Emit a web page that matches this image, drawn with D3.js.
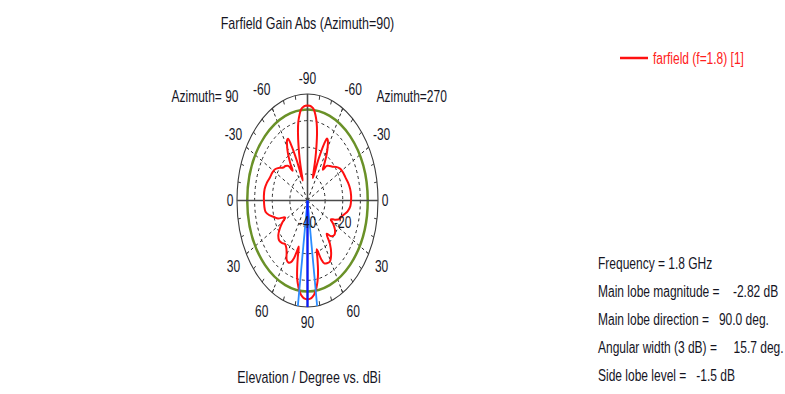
<!DOCTYPE html>
<html>
<head>
<meta charset="utf-8">
<script src="https://cdn.jsdelivr.net/npm/d3@7"></script>
<style>
  body { margin: 0; background: #ffffff; }
  svg { display: block; }
  text { font-family: "Liberation Sans", Arial, sans-serif; fill: #15151f; }
</style>
</head>
<body>
<svg id="chart" width="785" height="394"></svg>
<script>
// Farfield gain cut, azimuth = 90 half (drawn on the left), elevation in degrees
const elevLeft = [-90,-88,-86,-84,-82,-80,-78,-76,-74,-72,-70,-68,-66,-64.5,-63,-61,-58,-55,-53,-50,-46,-42,-38,-33,-28,-22,-16,-10,-4,0,5,10,14,18,22,25,27,30,34,38,43,48,52,56,59,62,65,68,70.5,72.5,74,75.5,77,78.5,80,82.15,84,86,88,90];
const gainLeft = [-4.32,-4.4,-4.8,-5.5,-7.5,-10,-14,-19,-24,-29,-32,-24,-17,-14.3,-14.5,-16,-19,-23,-26,-23,-22,-21.5,-20,-18.3,-17.5,-17,-16,-15.3,-15.2,-15.3,-15.4,-15.8,-17.5,-20,-22,-25,-25.8,-23.5,-21,-19,-18,-18.5,-19.3,-18.5,-17,-14.8,-14.3,-15,-17,-20,-22,-18,-14,-10.5,-8.3,-5.82,-4.4,-3.5,-3.0,-2.82];

// Azimuth = 270 half (drawn on the right)
const elevRight = [-90,-88,-86,-84,-82,-80,-78,-76,-74,-72,-70,-68,-66,-64.5,-63,-61,-58,-55,-53,-50,-46,-42,-38,-33,-28,-22,-16,-10,-4,0,5,10,14,18,21,25,28,31,35,40,45,49,52,56,61,65,68,70.5,72.5,74,75.5,77,78.5,80,82.15,84,86,88,90];
const gainRight = [-4.32,-4.4,-4.8,-5.6,-7.6,-10.2,-14,-19,-24,-29,-31,-23,-16.5,-14.2,-14.6,-16.2,-19.5,-23.5,-25.5,-23,-22,-21,-19.5,-18,-17.3,-16.8,-16,-15.4,-15.2,-15.3,-15.6,-16.8,-18.5,-20,-20.5,-23,-25,-23,-21,-20,-21,-23.4,-19.3,-16,-13.8,-14,-14.5,-16.5,-19.5,-21,-17.5,-13.5,-10.5,-8.3,-5.82,-4.4,-3.5,-3.0,-2.82];

// Radial (dB) and angular axis definitions
const dbRange = [-40, 0];
const ringLevels = [-30, -20, -10];
const radialLabels = [-40, -20];
const angleLabels = [-90, -60, -30, 0, 30, 60, 90];
const spokeAngles = [-60, -30, 30, 60];

// Summary figures
const frequencyGHz = 1.8;
const mainLobeMagnitude = -2.82;
const mainLobeDirection = 90.0;
const angularWidth3dB = 15.7;
const sideLobeLevel = -1.5;

const svg = d3.select("#chart");
const cx = 307.5, cy = 200.5, rx = 70.5, ry = 106.5;
const textScaleX = 0.75;
const fontSize = 16;

const r = d3.scaleLinear().domain(dbRange).range([0, 1]).clamp(true);
const rad = d => d * Math.PI / 180;
// side: -1 = azimuth 90 half (left), +1 = azimuth 270 half (right)
const pt = (side, elev, db) => {
  const k = r(db);
  return [cx + side * rx * k * Math.cos(rad(elev)), cy + ry * k * Math.sin(rad(elev))];
};

function label(x, y, str, anchor, color, size, sx) {
  const g = svg.append("g").attr("transform", `translate(${x},${y}) scale(${sx || textScaleX},1)`);
  const t = g.append("text")
    .attr("text-anchor", anchor || "start")
    .attr("font-size", size || fontSize)
    .style("white-space", "pre")
    .text(str);
  if (color) t.style("fill", color);
  return t;
}

const plot = svg.append("g");

// dashed level rings
plot.selectAll("ellipse.ring").data(ringLevels).join("ellipse")
  .attr("cx", cx).attr("cy", cy)
  .attr("rx", d => rx * r(d)).attr("ry", d => ry * r(d))
  .attr("fill", "none").attr("stroke", "#2a2a2a")
  .attr("stroke-width", 1).attr("stroke-dasharray", "3,3");

// dashed spokes on both halves
[-1, 1].forEach(side => {
  plot.selectAll(null).data(spokeAngles).join("line")
    .attr("x1", cx).attr("y1", cy)
    .attr("x2", d => pt(side, d, dbRange[1])[0])
    .attr("y2", d => pt(side, d, dbRange[1])[1])
    .attr("stroke", "#2a2a2a").attr("stroke-width", 1).attr("stroke-dasharray", "3,3");
});

// -3 dB circle relative to the main lobe
plot.append("ellipse")
  .attr("cx", cx).attr("cy", cy)
  .attr("rx", rx * r(mainLobeMagnitude - 3)).attr("ry", ry * r(mainLobeMagnitude - 3))
  .attr("fill", "none").attr("stroke", "#6a9128").attr("stroke-width", 2.5);

// outer boundary
plot.append("ellipse")
  .attr("cx", cx).attr("cy", cy).attr("rx", rx).attr("ry", ry)
  .attr("fill", "none").attr("stroke", "#3a3a3a").attr("stroke-width", 1.1);

// small ticks along the boundary
const tickAngles = d3.range(-90, 91, 10);
[-1, 1].forEach(side => {
  plot.selectAll(null).data(tickAngles).join("line")
    .attr("x1", d => pt(side, d, 0)[0]).attr("y1", d => pt(side, d, 0)[1])
    .attr("x2", d => cx + (pt(side, d, 0)[0] - cx) * 0.96)
    .attr("y2", d => cy + (pt(side, d, 0)[1] - cy) * 0.96)
    .attr("stroke", "#3a3a3a").attr("stroke-width", 1);
});

// solid axes
plot.append("line").attr("x1", cx - rx).attr("x2", cx + rx).attr("y1", cy).attr("y2", cy)
  .attr("stroke", "#4a4a4a").attr("stroke-width", 1.6);
plot.append("line").attr("x1", cx).attr("x2", cx).attr("y1", cy - ry).attr("y2", cy + ry)
  .attr("stroke", "#4a4a4a").attr("stroke-width", 1.6);

// gain curve
const pts = elevLeft.map((e, i) => pt(-1, e, gainLeft[i]))
  .concat(elevRight.map((e, i) => pt(1, e, gainRight[i])).reverse());
plot.append("path")
  .attr("d", d3.line().curve(d3.curveCatmullRomClosed.alpha(0.5))(pts))
  .attr("fill", "none").attr("stroke", "#ff1010").attr("stroke-width", 2);

// main lobe direction and 3 dB beam edges
const half = angularWidth3dB / 2;
[[-1, mainLobeDirection - half], [1, mainLobeDirection - half]].forEach(([side, e]) => {
  const p = pt(side, e, 0);
  plot.append("line").attr("x1", cx).attr("y1", cy).attr("x2", p[0]).attr("y2", p[1])
    .attr("stroke", "#2b8cff").attr("stroke-width", 1.8);
});
const pm = pt(-1, mainLobeDirection, 0);
plot.append("line").attr("x1", cx).attr("y1", cy).attr("x2", pm[0]).attr("y2", pm[1])
  .attr("stroke", "#0a1aff").attr("stroke-width", 2.2);

// angle labels
angleLabels.forEach(a => {
  const sides = (a === 90 || a === -90) ? [0] : [-1, 1];
  sides.forEach(side => {
    const c = Math.cos(rad(a)), s = Math.sin(rad(a));
    const diag = (a % 90 !== 0) ? 1 : 0;
    const x = cx + side * ((rx + 7) * Math.abs(c) + 7 * diag);
    const y = cy + Math.sign(s) * ((ry + 15.5) * Math.abs(s) + 5 * diag);
    label(x, y + 5.5, String(a), "middle");
  });
});

// radial labels
radialLabels.forEach(v => {
  label(cx + rx * r(v), cy + 27, String(v), "middle");
});

// half-plane captions
label(cx - 69, cy - 99, "Azimuth= 90", "end");
label(cx + 69, cy - 99, "Azimuth=270", "start");

// titles
label(cx, 29, "Farfield Gain Abs (Azimuth=90)", "middle", null, 16, 0.78);
label(cx + 1.5, 383, "Elevation / Degree vs. dBi", "middle", null, 16, 0.78);

// legend
svg.append("line").attr("x1", 620).attr("x2", 648).attr("y1", 58).attr("y2", 58)
  .attr("stroke", "#ff1010").attr("stroke-width", 2.5);
label(653, 63.5, `farfield (f=${frequencyGHz}) [1]`, "start", "#ff2020");

// summary block
const info = [
  `Frequency = ${frequencyGHz} GHz`,
  `Main lobe magnitude =    ${mainLobeMagnitude.toFixed(2)} dB`,
  `Main lobe direction =   ${mainLobeDirection.toFixed(1)} deg.`,
  `Angular width (3 dB) =     ${angularWidth3dB.toFixed(1)} deg.`,
  `Side lobe level =   ${sideLobeLevel.toFixed(1)} dB`
];
info.forEach((s, i) => label(598, 269 + i * 28, s, "start"));
</script>
</body>
</html>
